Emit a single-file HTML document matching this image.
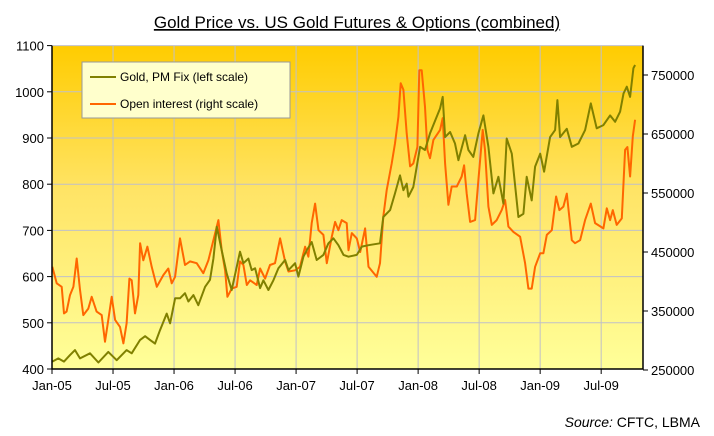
<!DOCTYPE html>
<html><head><meta charset="utf-8">
<style>
html,body{margin:0;padding:0;background:#fff;}
svg{display:block;font-family:"Liberation Sans",Arial,sans-serif;}
</style></head>
<body>
<svg id="chart" width="714" height="436" viewBox="0 0 714 436" xmlns="http://www.w3.org/2000/svg">
<defs>
<linearGradient id="bg" x1="0" y1="0" x2="0" y2="1">
<stop offset="0" stop-color="#ffcc00"/>
<stop offset="0.45" stop-color="#ffe466"/>
<stop offset="1" stop-color="#ffff99"/>
</linearGradient>
</defs>
<text x="357" y="28" text-anchor="middle" font-size="17" text-decoration="underline">Gold Price vs. US Gold Futures &amp; Options (combined)</text>
<rect x="52" y="45.6" width="591" height="323.4" fill="url(#bg)"/>
<g id="grid"></g>
<g id="series"></g>
<g id="axes"></g>
<g>
<rect x="82" y="62" width="208" height="56" fill="#ffffcc" stroke="#999" stroke-width="1"/>
<line x1="90" y1="77" x2="116" y2="77" stroke="#808000" stroke-width="2"/>
<text x="120" y="81" font-size="12">Gold, PM Fix (left scale)</text>
<line x1="90" y1="104" x2="116" y2="104" stroke="#ff6600" stroke-width="2"/>
<text x="120" y="108" font-size="12">Open interest (right scale)</text>
</g>
<text x="700" y="427" text-anchor="end" font-size="14"><tspan font-style="italic">Source:</tspan>  CFTC, LBMA</text>
</svg>
<script>
// months since Jan-2005
const goldMonths=[0.03,0.62,1.18,1.77,2.26,2.75,3.74,4.56,5.54,6.36,7.34,7.84,8.66,9.15,9.64,10.13,10.62,11.28,11.61,12.1,12.59,13.08,13.41,13.9,14.39,15.05,15.54,15.87,16.2,16.69,17.18,17.67,18.16,18.49,18.82,19.31,19.64,19.97,20.46,20.79,21.28,21.77,22.26,22.92,23.25,23.9,24.23,24.72,25.05,25.54,26.03,26.69,27.18,27.67,28.16,28.66,29.15,29.97,30.46,31.12,32.25,32.58,33.24,33.73,34.22,34.55,34.88,35.04,35.53,36.19,36.68,37.17,37.83,38.16,38.42,38.65,39.14,39.63,39.96,40.62,40.94,41.43,41.93,42.42,42.91,43.4,43.89,44.39,44.71,45.21,45.86,46.35,46.68,47.17,47.5,48.0,48.39,48.98,49.47,49.7,49.96,50.62,51.11,51.76,52.42,52.98,53.56,54.22,54.88,55.37,55.86,56.19,56.52,56.84,57.17,57.34];
const goldValues=[416,423,416,430,441,423,434,414,437,419,441,434,463,471,463,455,484,520,499,553,553,564,546,560,538,578,593,639,708,657,607,571,621,654,629,639,614,618,575,592,571,592,618,636,614,629,600,643,657,675,636,647,672,683,668,647,643,647,665,668,672,729,744,780,819,787,801,773,794,881,874,910,946,964,989,902,913,888,852,906,874,859,910,949,881,780,816,758,899,866,729,736,816,765,838,866,827,902,917,982,902,920,881,888,917,975,921,928,949,935,957,996,1011,989,1051,1058];
const oiMonths=[0.03,0.46,0.95,1.18,1.44,1.77,2.1,2.43,2.75,3.08,3.57,3.9,4.39,4.89,5.21,5.54,5.87,6.2,6.69,7.02,7.34,7.61,7.84,8.16,8.49,8.66,8.98,9.38,9.8,10.3,10.95,11.44,11.77,12.1,12.59,13.08,13.57,14.23,14.88,15.38,15.87,16.36,16.69,17.02,17.25,17.67,18.16,18.49,18.82,19.15,19.48,20.13,20.46,20.95,21.44,21.93,22.43,22.92,23.25,23.9,24.39,24.89,25.21,25.54,25.87,26.2,26.69,27.02,27.51,27.84,28.16,28.49,28.98,29.15,29.48,29.97,30.3,30.79,31.12,31.93,32.25,32.58,32.91,33.4,33.73,34.06,34.29,34.55,34.88,35.21,35.53,35.93,36.12,36.35,36.68,36.91,37.17,37.5,38.16,38.42,38.65,38.98,39.3,39.8,40.29,40.52,40.78,41.11,41.6,41.93,42.35,42.58,42.91,43.24,43.73,44.22,44.55,44.88,45.37,46.03,46.52,46.84,47.17,47.5,48.0,48.32,48.65,49.14,49.57,49.89,50.29,50.62,51.11,51.43,51.93,52.42,52.98,53.4,54.22,54.55,54.88,55.14,55.53,56.03,56.35,56.58,56.84,57.11,57.34];
const oiValues=[425000,397000,391000,346000,349000,377000,391000,439000,386000,343000,354000,374000,349000,343000,298000,335000,374000,335000,323000,295000,329000,405000,402000,346000,377000,465000,436000,459000,425000,391000,411000,422000,397000,408000,473000,428000,434000,431000,414000,436000,470000,504000,453000,419000,374000,388000,391000,434000,428000,394000,402000,394000,422000,405000,428000,431000,473000,434000,417000,419000,425000,459000,442000,499000,532000,487000,479000,431000,476000,501000,487000,504000,499000,453000,482000,473000,450000,490000,425000,408000,431000,510000,555000,600000,634000,679000,736000,725000,651000,595000,600000,628000,758000,758000,696000,623000,609000,640000,657000,677000,600000,530000,561000,561000,578000,597000,549000,501000,504000,572000,657000,623000,527000,496000,504000,521000,538000,493000,484000,476000,431000,388000,388000,425000,448000,448000,479000,487000,544000,521000,527000,549000,470000,465000,470000,504000,532000,499000,490000,524000,504000,521000,496000,507000,623000,628000,578000,646000,674000];
const leftTicks=[400,500,600,700,800,900,1000,1100];
const rightTicks=[250000,350000,450000,550000,650000,750000];
const xTickLabels=["Jan-05","Jul-05","Jan-06","Jul-06","Jan-07","Jul-07","Jan-08","Jul-08","Jan-09","Jul-09"];
const xTickMonths=[0,6,12,18,24,30,36,42,48,54];

const NS="http://www.w3.org/2000/svg";
const X0=52,X1=643,Y0=369,YT=45.6;
const xs=m=>X0+m*10.17;
const yL=v=>Y0-(v-400)/(1100-400)*(Y0-YT);
const yR=v=>370-(v-250000)/100000*59;
function mk(tag,attrs,parent){const e=document.createElementNS(NS,tag);for(const k in attrs)e.setAttribute(k,attrs[k]);parent.appendChild(e);return e;}
const grid=document.getElementById('grid'),axes=document.getElementById('axes'),series=document.getElementById('series');
leftTicks.forEach(v=>{
  const y=yL(v);
  if(v>400){const g=mk('line',{x1:X0,x2:X1,y1:y,y2:y,stroke:'#c0c0c8','stroke-width':1},grid);
  
  }
  mk('line',{x1:X0-5,x2:X0,y1:y,y2:y,stroke:'#000'},axes);
  const t=mk('text',{x:X0-8,y:y+5,'text-anchor':'end','font-size':13},axes);t.textContent=v;
  
  
});
rightTicks.forEach(v=>{
  const y=yR(v);
  mk('line',{x1:X1,x2:X1+5,y1:y,y2:y,stroke:'#000'},axes);
  const t=mk('text',{x:X1+8,y:y+5,'font-size':13},axes);t.textContent=v;
  
  
});
xTickMonths.forEach((m,i)=>{
  const x=xs(m);
  if(m>0){const g=mk('line',{x1:x,x2:x,y1:YT,y2:Y0,stroke:'#c0c0c8','stroke-width':1},grid);
  
  }
  mk('line',{x1:x,x2:x,y1:Y0,y2:Y0+5,stroke:'#000'},axes);
  const t=mk('text',{x:x,y:Y0+21,'text-anchor':'middle','font-size':13},axes);t.textContent=xTickLabels[i];
  
  
});
const ax=mk('path',{d:`M${X0},${YT}V${Y0}H${X1}V${YT}`,fill:'none',stroke:'#000','stroke-width':1.5},axes);


const oiPath=mk('path',{d:oiMonths.map((m,i)=>(i?'L':'M')+xs(m).toFixed(1)+','+yR(oiValues[i]).toFixed(1)).join(''),fill:'none',stroke:'#ff6600','stroke-width':2,'stroke-linejoin':'round'},series);


const gPath=mk('path',{d:goldMonths.map((m,i)=>(i?'L':'M')+xs(m).toFixed(1)+','+yL(goldValues[i]).toFixed(1)).join(''),fill:'none',stroke:'#808000','stroke-width':2,'stroke-linejoin':'round'},series);


</script>
</body></html>
